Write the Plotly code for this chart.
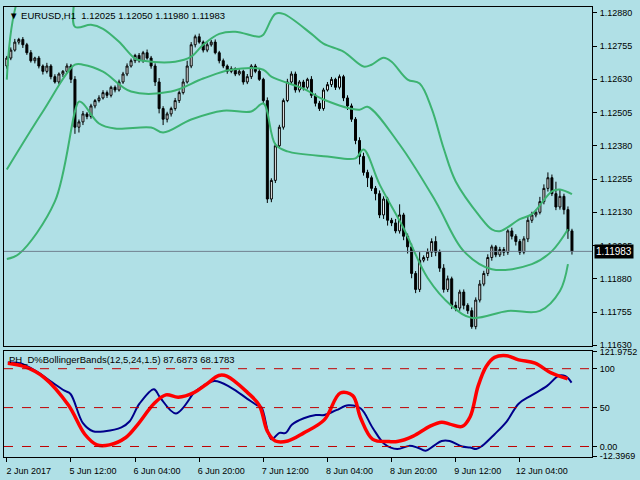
import plotly.graph_objects as go
from plotly.subplots import make_subplots

# --- data ---
closes = [1.1271,1.1274,1.1277,1.1278,1.1276,1.1273,1.1270,1.1271,1.1268,1.1266,
          1.1268,1.1264,1.1262,1.1265,1.1266,1.1268,1.1263,1.1245,1.1247,1.1250,
          1.1249,1.1253,1.1255,1.1256,1.1258,1.1257,1.1260,1.1259,1.1262,1.1265,
          1.1268,1.1270,1.1272,1.1270,1.1273,1.1271,1.1268,1.1262,1.1252,1.1248,
          1.1250,1.1252,1.1255,1.1258,1.1262,1.1268,1.1276,1.1279,1.1277,1.1274,
          1.1276,1.1277,1.1273,1.1270,1.1268,1.1266,1.1267,1.1265,1.1266,1.1262,
          1.1264,1.1268,1.1266,1.1263,1.1255,1.1218,1.1225,1.1238,1.1245,1.1255,
          1.1262,1.1265,1.1259,1.1262,1.1260,1.1263,1.1257,1.1254,1.1252,1.1259,
          1.1261,1.1263,1.1260,1.1264,1.1256,1.1253,1.1248,1.1240,1.1234,1.1228,
          1.1226,1.1222,1.1220,1.1212,1.1218,1.1210,1.1209,1.1206,1.1212,1.1204,
          1.1200,1.1190,1.1184,1.1195,1.1196,1.1198,1.1202,1.1198,1.1192,1.1184,
          1.1188,1.1178,1.1177,1.1183,1.1178,1.1176,1.1170,1.1180,1.1186,1.1190,
          1.1196,1.1200,1.1197,1.1199,1.1198,1.1206,1.1204,1.1202,1.1198,1.1203,
          1.1210,1.1212,1.1213,1.1217,1.1222,1.1226,1.1220,1.1215,1.1219,1.1214,
          1.1206,1.11983]
first_open = 1.1268
# wick sizes in points (1e-5)
upper_wick = [8,10,12,6,9,7,10,5,8,6,12,7,9,6,5,10,8,12,9,11,7,8,6,10,9,8,6,7,9,8,
              10,8,6,9,7,12,8,10,15,9,8,7,10,8,12,20,10,8,12,6,9,8,10,7,8,6,9,5,8,6,
              10,7,8,9,6,12,8,10,9,8,12,10,9,7,8,6,12,7,9,8,10,9,6,8,7,10,9,8,12,14,
              10,8,9,12,10,8,9,15,40,8,10,12,9,30,8,14,12,20,10,15,12,8,14,9,10,8,12,10,15,10,
              12,8,7,10,9,6,12,8,9,10,15,12,10,18,15,20,12,45,25,10,12,8]
lower_wick = [10,8,6,9,12,8,7,10,9,12,8,10,6,9,11,8,14,25,20,12,10,8,9,7,6,10,8,9,6,7,
              8,6,9,7,8,6,10,15,18,22,12,10,8,9,7,6,8,10,6,9,8,7,6,10,8,9,7,8,6,10,
              8,9,7,6,10,15,12,10,8,9,6,8,10,9,12,8,10,12,9,8,6,9,10,8,12,15,10,14,30,12,
              35,10,25,12,15,20,12,9,10,15,25,18,14,10,8,12,18,15,14,12,10,14,12,10,15,12,8,10,9,8,
              10,12,9,8,14,10,12,15,10,8,12,10,9,8,10,12,9,12,10,18,30,12]

band_up_x = [0,5,16,17,21,24,28,32,34,42,46,49,53,57,63,64,67,69,76,79,84,89,91,94,96,100,103,106,109,112,118,121,123,128,131,136,138,141]
band_up_y = [1.12629,1.12990,1.12990,1.12828,1.12835,1.12820,1.12771,1.12708,1.12700,1.12696,1.12715,1.12760,1.12801,1.12809,
             1.12790,1.12798,1.12876,1.12876,1.12801,1.12764,1.12734,1.12678,1.12685,1.12711,1.12696,1.12629,1.12614,1.12520,
             1.12370,1.12246,1.12115,1.12066,1.12059,1.12104,1.12123,1.12209,1.12216,1.12198]
band_mid_x = [0,9,17,19,24,31,41,49,56,64,66,74,79,88,90,98,107,114,121,131,136,140]
band_mid_y = [1.12291,1.12509,1.12685,1.12685,1.12659,1.12584,1.12584,1.12633,1.12666,1.12666,1.12640,1.12595,1.12554,
              1.12516,1.12527,1.12385,1.12171,1.11984,1.11916,1.11935,1.11984,1.12066]
band_lo_x = [0,3,12,18,19,23,27,36,39,46,54,61,64,67,70,80,87,89,93,99,105,111,116,125,133,138,140]
band_lo_y = [1.11954,1.11973,1.12171,1.12546,1.12539,1.12464,1.12445,1.12449,1.12430,1.12479,1.12512,1.12509,1.12539,
             1.12385,1.12359,1.12340,1.12333,1.12366,1.12235,1.12070,1.11883,1.11778,1.11733,1.11759,1.11759,1.11834,1.11935]

blue_x = [0.25,3.3,7.4,11.4,14.4,15.9,19,21.5,24.5,28.6,30.6,33.1,36.7,38.2,42.2,46.8,47.8,51.8,55.9,60,62.5,63.5,66,68,
          69.6,71.1,74.1,77.1,79.2,82.2,85.2,88.3,91.3,94.3,97.4,100.4,102.4,104.5,106.5,108.5,110.5,113.6,115.6,117.1,
          118.6,121.7,124.7,127.7,130.8,134.8,137.8,139.4,140.9]
blue_y = [107.9,107.1,96.7,82.1,71.7,67.5,30,19.6,19.6,24.6,32.1,55,73.7,63.3,42.5,69.6,73.7,84.2,75.8,61.3,52.9,50.8,9.2,
          17.5,17.5,27.9,36.3,40.4,40.4,46.7,52.9,48.8,23.8,2.9,-3.3,0.8,-1.25,-5.4,0.8,7.1,7.1,0,-1.25,-3.3,0.8,15.8,32.1,
          55,65.4,77.9,91.25,90.4,82.1,67.5][:53]
red_x = [0.25,4.3,9.4,15.4,19.5,22.5,25.6,29.6,32.6,36.7,39.7,42.8,46.8,49.8,52.9,54.9,60,63,65,67,70.1,74.1,79.2,83.2,
         86.3,88.3,91.3,95.4,97.4,101.4,105.5,108.5,110.5,113.6,115.6,117.6,119.6,121.7,124.7,127.7,131.8,135.8,139.9,140.9]
red_y = [107.1,102.9,88.3,52.9,15.4,2.1,2.1,11.3,27.9,55,66.3,63.3,69.6,80,91.25,90.4,69.6,52.9,19.6,7.1,7.1,17.5,34.2,
         68.75,65.4,36.3,9.2,6.3,6.3,13.3,25.8,31.25,28.75,25.8,38.3,77.9,102.9,114.6,116.7,111.3,107.1,94.6,87.1][:43]
red_x = red_x[:len(red_y)]
blue_x = blue_x[:len(blue_y)]

price_ticks = [1.12880,1.12755,1.12630,1.12505,1.12380,1.12255,1.12130,1.12005,1.11880,1.11755,1.11630]
ind_ticks = [121.9752,100,50,0,-12.3969]
ind_tick_text = ["121.9752","100","50","0.00","-12.3969"]
date_pos = [0,16,32,48,64,80,96,112,128]
date_labels = ["2 Jun 2017","5 Jun 12:00","6 Jun 04:00","6 Jun 20:00","7 Jun 12:00",
               "8 Jun 04:00","8 Jun 20:00","9 Jun 12:00","12 Jun 04:00"]
last_price = 1.11983

# --- build ---
n = len(closes)
opens = [first_open] + closes[:-1]
highs = [max(o, c) + w * 1e-5 for o, c, w in zip(opens, closes, upper_wick[:n])]
lows = [min(o, c) - w * 1e-5 for o, c, w in zip(opens, closes, lower_wick[:n])]
x = list(range(n))

fig = make_subplots(rows=2, cols=1, shared_xaxes=True, row_heights=[0.762, 0.238], vertical_spacing=0.012)
green = "#3CB371"
for bx, by in [(band_up_x, band_up_y), (band_mid_x, band_mid_y), (band_lo_x, band_lo_y)]:
    fig.add_trace(go.Scatter(x=bx, y=by, mode="lines", line=dict(color=green, width=2, shape="spline"),
                             hoverinfo="skip", showlegend=False), row=1, col=1)
fig.add_trace(go.Candlestick(x=x, open=opens, high=highs, low=lows, close=closes, whiskerwidth=0,
                             increasing=dict(line=dict(color="black", width=1), fillcolor="white"),
                             decreasing=dict(line=dict(color="black", width=1), fillcolor="black"),
                             showlegend=False), row=1, col=1)
fig.add_trace(go.Scatter(x=blue_x, y=blue_y, mode="lines", line=dict(color="#00008B", width=2, shape="spline"),
                         showlegend=False), row=2, col=1)
fig.add_trace(go.Scatter(x=red_x, y=red_y, mode="lines", line=dict(color="red", width=3.5, shape="spline"),
                         showlegend=False), row=2, col=1)

for lvl in [100, 50, 0]:
    fig.add_hline(y=lvl, line=dict(color="#C00000", width=1, dash="dash"), row=2, col=1)
fig.add_hline(y=last_price, line=dict(color="#708090", width=1), row=1, col=1)

ax = dict(showgrid=False, zeroline=False, showline=True, linecolor="black", linewidth=1, mirror=True)
fig.update_xaxes(**ax, range=[-0.7, 146], rangeslider_visible=False)
fig.update_xaxes(tickvals=date_pos, ticktext=date_labels, ticks="outside", ticklen=4, tickcolor="black",
                 ticklabelshift=22, ticklabelstandoff=1, row=2, col=1)
fig.update_xaxes(showticklabels=False, row=1, col=1)
fig.update_yaxes(**ax, side="right", ticks="outside", ticklen=4, tickcolor="black", ticklabelstandoff=1)
fig.update_yaxes(range=[1.11628, 1.12902], tickvals=price_ticks, tickformat=".5f", row=1, col=1)
fig.update_yaxes(range=[-13.5, 122.5], tickvals=ind_ticks, ticktext=ind_tick_text, row=2, col=1)

fig.add_annotation(xref="paper", yref="y", x=1.004, y=last_price, text="1.11983", showarrow=False,
                   xanchor="left", bgcolor="black", font=dict(color="white", size=10), borderpad=1)
fig.add_annotation(xref="paper", yref="paper", x=0.005, y=0.998, xanchor="left", yanchor="top", showarrow=False,
                   text="▼ EURUSD,H1  1.12025 1.12050 1.11980 1.11983", font=dict(size=9.5, color="black"))
fig.add_annotation(xref="paper", yref="paper", x=0.005, y=0.234, xanchor="left", yanchor="top", showarrow=False,
                   text="PH_D%BollingerBands(12,5,24,1.5) 87.6873 68.1783", font=dict(size=9.5, color="black"))

fig.update_layout(width=640, height=480, margin=dict(l=3, r=44, t=5, b=23),
                  paper_bgcolor="#B0E0E6", plot_bgcolor="#B0E0E6",
                  font=dict(family="Liberation Sans, Arial, sans-serif", size=9, color="black"))
fig.write_html("out.html", config={"displayModeBar": False})
with open("out.html", encoding="utf-8") as f:
    html = f.read()
html = html.replace("<body>", '<body style="margin:0;padding:0;overflow:hidden;background:#B0E0E6">', 1)
with open("out.html", "w", encoding="utf-8") as f:
    f.write(html)
